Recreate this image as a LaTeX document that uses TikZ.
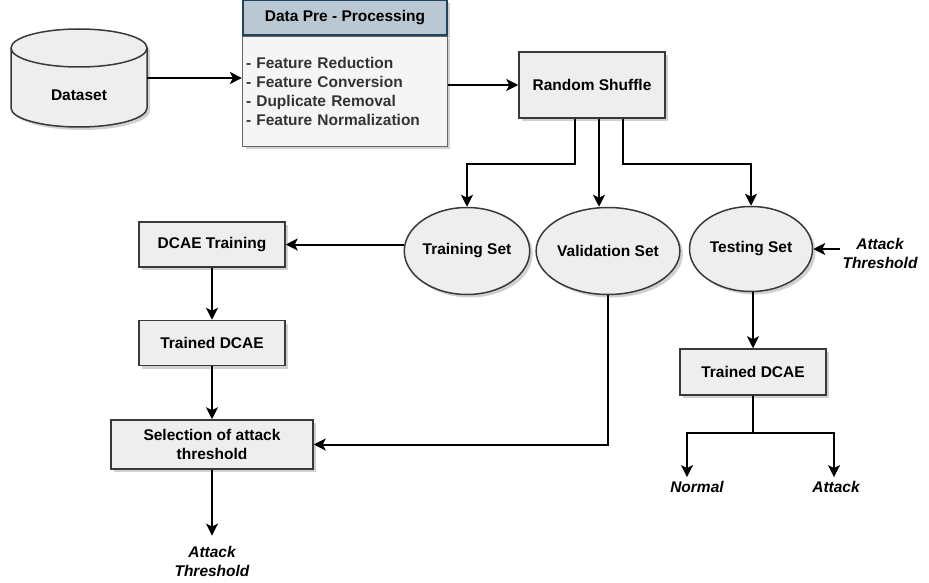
\documentclass[tikz,border=0pt]{standalone}
\usepackage{fontspec}
\setmainfont{Liberation Sans}
\usepackage{xcolor}
\usepackage{tikz}
\usetikzlibrary{positioning, shapes.geometric, shadows, arrows.meta}

\definecolor{boxfill}{HTML}{EEEEEE}
\definecolor{boxline}{HTML}{36393D}
\definecolor{hdrfill}{HTML}{BAC8D3}
\definecolor{hdrline}{HTML}{23445D}
\definecolor{bodyfill}{HTML}{F5F5F5}
\definecolor{bodyline}{HTML}{666666}

\begin{document}
\begin{tikzpicture}[x=1pt, y=-1pt, node distance = 52pt,
        font=\fontsize{15.5}{19}\selectfont\bfseries]
            \tikzstyle{shade} = [drop shadow={shadow xshift=3pt, shadow yshift=-3pt, fill=black, opacity=0.18}];
            \tikzstyle{process} = [rectangle, draw=boxline, fill=boxfill, line width=1.5pt, minimum width=146pt, minimum height=45pt, align=center, shade];
            \tikzstyle{set} = [ellipse, draw=boxline, fill=boxfill, line width=1.5pt, minimum width=123pt, minimum height=87pt, inner sep=0pt, shade];
            \tikzstyle{result} = [font=\fontsize{15.5}{19}\selectfont\bfseries\itshape, align=center, inner sep=2pt];
            \tikzstyle{flow} = [-{Stealth[length=12pt, width=12pt, inset=3pt]}, line width=2pt, black];
            \useasboundingbox (0,0) rectangle (929,583);

            % dataset drum
            \filldraw [draw=boxline, fill=boxfill, line width=1.5pt, shade]
                (11,48) -- (11,108) arc (180:360:68pt and 19pt)
                -- (147,48) arc (0:180:68pt and 19pt) -- cycle;
            \draw [boxline, line width=1.5pt] (11,48) arc (180:360:68pt and 19pt);
            \node [minimum width=136pt, minimum height=98pt, inner sep=0pt,
                label={[yshift=-17pt]center:Dataset}] (data) at (79,78) {};

            \node [rectangle, draw=hdrline, fill=hdrfill, line width=1.5pt, minimum width=204pt, minimum height=35pt, shade] (pre) at (345,17.5) {Data Pre - Processing};
            \node [rectangle, draw=bodyline, fill=bodyfill, line width=1.5pt, minimum width=204pt, minimum height=110pt, text width=198pt, align=left, text=black!80, shade, below = 0pt of pre] (prebody)
                {- Feature Reduction\\- Feature Conversion\\- Duplicate Removal\\- Feature Normalization};

            \node [process, minimum height=66pt] (shuffle) at (592,85) {Random Shuffle};

            \node [set] (train) at (467,251) {Training Set};
            \node [set] (valid) at (608,251) {Validation Set};
            \node [set, minimum height=85pt] (test) at (751,249) {Testing Set};
            \node [result] (thrtest) at (880,253) {Attack\\Threshold};

            \node [process] (dtrain) at (212,244.5) {DCAE Training};
            \node [process, below = of dtrain] (dcae) {Trained DCAE};
            \node [process, minimum width=202pt, minimum height=49pt, below = 53pt of dcae] (select) {Selection of attack\\threshold};
            \node [result] (thrsel) at (212,561) {Attack\\Threshold};

            \node [process, minimum height=46pt] (tdcae) at (753,372) {Trained DCAE};
            \node [result] (normal) at (697,487) {Normal};
            \node [result] (attack) at (836,487) {Attack};

            \draw [flow] (data.east |- 0,78) -- (prebody.west |- 0,78);
            \draw [flow] (prebody.east |- shuffle) -- (shuffle.west);
            \draw [flow] ([xshift=-17pt]shuffle.south) -- ++(0,45) -| (train.north);
            \draw [flow] ([xshift=7pt]shuffle.south) -- ([xshift=7pt]shuffle.south |- valid.north);
            \draw [flow] ([xshift=31pt]shuffle.south) -- ++(0,45) -| (test.north);
            \draw [flow] (dtrain.east -| train.west) -- (dtrain.east);
            \draw [flow] (dtrain) -- (dcae);
            \draw [flow] (dcae) -- (select);
            \draw [flow] (valid.south) |- (select.east);
            \draw [flow] (select.south) -- ([yshift=8pt]thrsel.north);
            \draw [flow] (thrtest.west |- test.east) -- (test.east);
            \draw [flow] (test.south -| tdcae) -- (tdcae.north);
            \draw [flow] (tdcae.south) -- ++(0,37) -| ([xshift=-10pt, yshift=2pt]normal.north);
            \draw [flow] (tdcae.south) -- ++(0,37) -| ([xshift=-2pt, yshift=2pt]attack.north);
        \end{tikzpicture}
\end{document}
